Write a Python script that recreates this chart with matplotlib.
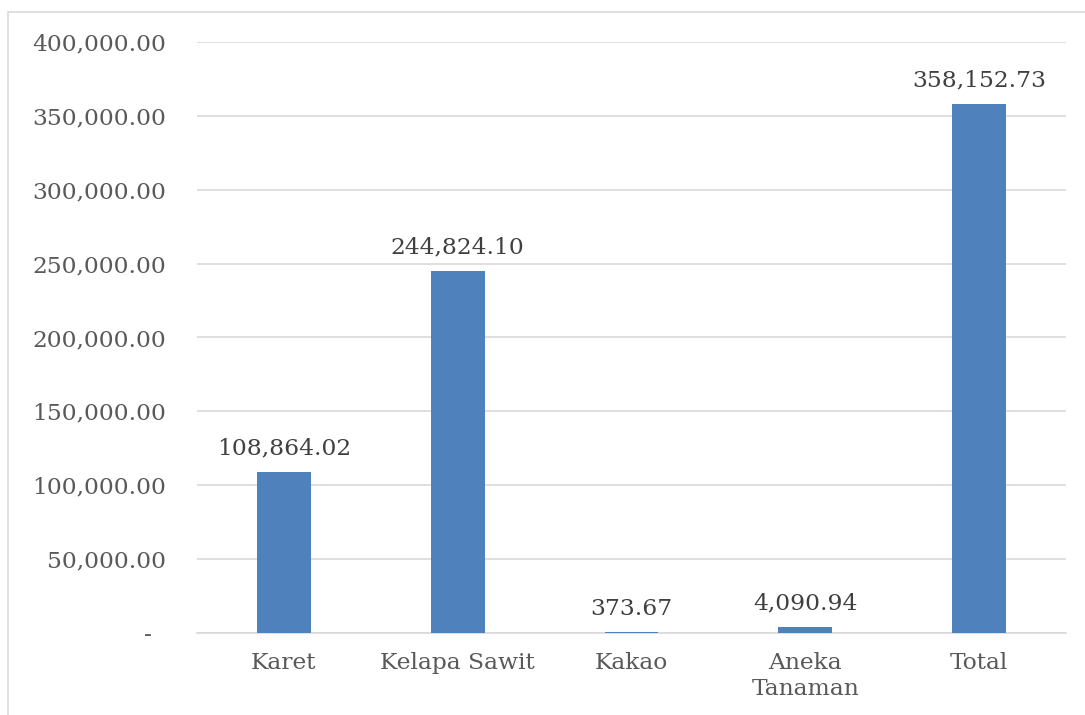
import numpy as np
import matplotlib.pyplot as plt
from matplotlib.patches import Rectangle

# data
categories = ['Karet', 'Kelapa Sawit', 'Kakao', 'Aneka\nTanaman', 'Total']
values = [108864.02, 244824.10, 373.67, 4090.94, 358152.73]
yticks = [0, 50000, 100000, 150000, 200000, 250000, 300000, 350000, 400000]

plt.rcParams.update({
    'font.family': 'DejaVu Serif',
    'font.size': 16.8,
})
text_col = '#595959'
grid_col = '#D9D9D9'

fig = plt.figure(figsize=(10.85, 7.15), dpi=100)
ax = fig.add_axes([0.1816, 0.1147, 0.8009, 0.8266])

x = np.arange(len(categories))
bars = ax.bar(x, values, width=0.31, color='#4F81BD', zorder=3)

for b, v in zip(bars, values):
    ax.annotate(f"{v:,.2f}", (b.get_x() + b.get_width() / 2, v),
                xytext=(0, 9), textcoords='offset points',
                ha='center', va='bottom', color='#404040', fontsize=16.8)

ax.set_xlim(-0.5, len(categories) - 0.5)
ax.set_ylim(0, 400000)
ax.set_yticks(yticks)
ax.set_yticklabels(['-  '] + [f"{t:,.2f}" for t in yticks[1:]])
ax.set_xticks(x)
ax.set_xticklabels(categories, linespacing=1.2)

ax.yaxis.grid(True, color=grid_col, linewidth=1.2, zorder=0)
ax.tick_params(axis='y', length=0, pad=22, colors=text_col)
ax.tick_params(axis='x', length=0, pad=14, colors=text_col)
for s in ['top', 'right', 'left']:
    ax.spines[s].set_visible(False)
ax.spines['bottom'].set_color(grid_col)
ax.spines['bottom'].set_linewidth(1.2)

# chart border
fig.patches.append(Rectangle((8 / 1085, -0.1), 1.2, 1 - 12 / 715 + 0.1,
                             transform=fig.transFigure, fill=False,
                             edgecolor=grid_col, linewidth=1.2))

fig.savefig('out.png', dpi=100)
